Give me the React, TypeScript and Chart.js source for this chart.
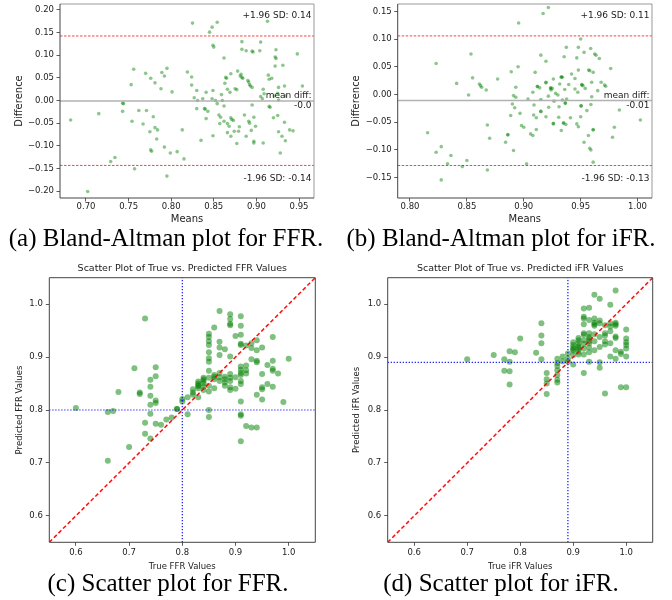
import React, { useEffect, useRef } from "react";
import { Chart, registerables } from "chart.js";

Chart.register(...registerables);

const SANS = "'DejaVu Sans', 'Liberation Sans', sans-serif";
const SERIF = "'Liberation Serif', 'Times New Roman', serif";
const INK = "#222";

// ---------- (a) Bland-Altman FFR ----------
const FFR_BA_MEANS = [
  0.682, 0.702, 0.715, 0.729, 0.734, 0.743, 0.744, 0.743, 0.753, 0.754,
  0.756, 0.757, 0.762, 0.767, 0.770, 0.771, 0.776, 0.775, 0.776, 0.777,
  0.779, 0.781, 0.781, 0.784, 0.783, 0.788, 0.789, 0.792, 0.795, 0.792,
  0.795, 0.799, 0.801, 0.807, 0.813, 0.815, 0.819, 0.824, 0.824, 0.825,
  0.827, 0.830, 0.831, 0.830, 0.835, 0.837, 0.839, 0.840, 0.841, 0.841,
  0.843, 0.845, 0.848, 0.848, 0.849, 0.850, 0.854, 0.849, 0.849, 0.852,
  0.854, 0.856, 0.857, 0.858, 0.859, 0.860, 0.862, 0.862, 0.862, 0.863,
  0.864, 0.865, 0.866, 0.866, 0.866, 0.868, 0.869, 0.870, 0.870, 0.870,
  0.871, 0.873, 0.874, 0.875, 0.877, 0.877, 0.878, 0.879, 0.880, 0.881,
  0.882, 0.883, 0.883, 0.883, 0.884, 0.886, 0.888, 0.888, 0.890, 0.891,
  0.891, 0.892, 0.892, 0.893, 0.894, 0.895, 0.895, 0.895, 0.896, 0.897,
  0.897, 0.899, 0.897, 0.904, 0.905, 0.905, 0.907, 0.908, 0.908, 0.909,
  0.913, 0.914, 0.915, 0.915, 0.916, 0.918, 0.920, 0.921, 0.922, 0.923,
  0.922, 0.923, 0.925, 0.925, 0.926, 0.926, 0.926, 0.928, 0.930, 0.931,
  0.933, 0.933, 0.934, 0.934, 0.939, 0.943, 0.948, 0.954,
];
const FFR_BA_DIFFS = [
  -0.043, -0.201, -0.029, -0.135, -0.126, -0.006, -0.007, -0.024, 0.035, -0.046,
  0.069, -0.151, -0.022, -0.052, 0.060, -0.022, 0.049, -0.069, -0.109, -0.112,
  -0.036, 0.039, -0.060, -0.065, -0.085, 0.026, 0.062, 0.054, 0.071, -0.103,
  -0.167, -0.116, 0.019, -0.113, -0.065, -0.129, 0.063, 0.052, 0.034, 0.171,
  0.006, 0.022, 0.000, -0.018, -0.088, 0.004, -0.018, -0.019, -0.040, 0.018,
  -0.024, 0.151, 0.004, 0.162, 0.122, 0.118, 0.173, 0.022, -0.078, 0.000,
  -0.007, -0.032, -0.051, -0.037, 0.013, 0.000, 0.094, -0.046, -0.012, 0.038,
  0.051, 0.049, 0.025, -0.051, -0.071, -0.057, 0.018, 0.059, -0.038, -0.079,
  -0.042, -0.044, -0.068, 0.026, 0.024, -0.095, 0.065, -0.068, -0.058, 0.054,
  0.058, 0.113, 0.130, 0.051, 0.049, -0.032, -0.079, 0.110, 0.044, 0.041,
  -0.046, -0.050, 0.035, 0.032, -0.066, 0.029, -0.010, 0.109, 0.107, -0.090,
  -0.037, -0.057, -0.094, 0.110, 0.129, 0.009, 0.004, -0.094, 0.025, 0.015,
  0.175, 0.056, 0.047, -0.013, -0.015, 0.049, -0.038, 0.010, 0.096, 0.093,
  0.076, 0.112, 0.016, -0.033, 0.029, 0.001, -0.069, -0.116, -0.079, 0.078,
  0.032, -0.048, 0.010, -0.089, -0.065, -0.067, 0.103, 0.032,
];
const FFR_BA_MEAN_DIFF = -0.001;
const FFR_BA_UPPER = 0.1426;
const FFR_BA_LOWER = -0.1434;
const FFR_BA_X_TICKS = [0.7, 0.75, 0.8, 0.85, 0.9, 0.95];
const FFR_BA_Y_TICKS = [-0.2, -0.15, -0.1, -0.05, 0, 0.05, 0.1, 0.15, 0.2];
const FFR_BA_NOTES = ["+1.96 SD: 0.14", "mean diff:", "-0.0", "-1.96 SD: -0.14"];

// ---------- (b) Bland-Altman iFR ----------
const IFR_BA_MEANS = [
  0.8155, 0.823, 0.823, 0.8275, 0.8275, 0.836, 0.833, 0.841, 0.846, 0.850,
  0.8515, 0.8536, 0.855, 0.861, 0.862, 0.863, 0.867, 0.868, 0.870, 0.868,
  0.877, 0.884, 0.886, 0.886, 0.8885, 0.889, 0.890, 0.891, 0.891, 0.892,
  0.893, 0.893, 0.895, 0.8955, 0.8967, 0.898, 0.900, 0.9025, 0.9037, 0.906,
  0.908, 0.908, 0.9087, 0.910, 0.909, 0.911, 0.911, 0.912, 0.912, 0.914,
  0.915, 0.915, 0.915, 0.915, 0.917, 0.9195, 0.9195, 0.9195, 0.9195, 0.9216,
  0.9216, 0.9219, 0.9236, 0.9236, 0.924, 0.925, 0.926, 0.926, 0.926, 0.9266,
  0.928, 0.930, 0.9307, 0.931, 0.9316, 0.933, 0.933, 0.934, 0.933, 0.934,
  0.935, 0.935, 0.9355, 0.936, 0.9365, 0.9365, 0.937, 0.9374, 0.9377, 0.9395,
  0.941, 0.942, 0.945, 0.945, 0.9466, 0.9466, 0.9475, 0.948, 0.948, 0.948,
  0.950, 0.9504, 0.9504, 0.950, 0.951, 0.951, 0.952, 0.953, 0.953, 0.954,
  0.9555, 0.9568, 0.957, 0.958, 0.9588, 0.959, 0.958, 0.959, 0.9597, 0.9597,
  0.961, 0.961, 0.961, 0.961, 0.9623, 0.9635, 0.965, 0.9664, 0.968, 0.971,
  0.9764, 0.978, 0.9796, 0.984, 1.0025, 0.972,
];
const IFR_BA_DIFFS = [
  -0.069, 0.056, -0.104, -0.094, -0.154, -0.110, -0.125, 0.020, -0.130, -0.119,
  -0.001, 0.073, 0.030, 0.019, 0.016, 0.013, 0.008, -0.055, -0.079, -0.136,
  0.028, -0.086, -0.073, -0.072, -0.038, 0.041, -0.017, -0.101, -0.002, -0.024,
  -0.005, 0.013, 0.050, 0.129, -0.034, -0.056, -0.059, -0.125, -0.008, -0.071,
  -0.074, 0.004, -0.037, 0.040, -0.019, -0.063, -0.042, 0.015, 0.014, 0.012,
  -0.009, 0.071, -0.031, -0.030, 0.146, 0.060, 0.022, 0.021, -0.040, 0.157,
  -0.003, -0.023, 0.012, 0.011, 0.008, 0.011, -0.052, -0.053, 0.028, -0.012,
  0.002, -0.001, -0.041, -0.022, 0.019, 0.032, 0.031, 0.031, -0.065, -0.010,
  -0.051, -0.052, 0.068, 0.009, -0.015, -0.016, -0.054, 0.085, -0.008, 0.018,
  -0.042, 0.037, 0.029, 0.010, 0.066, -0.053, 0.004, -0.058, 0.085, 0.044,
  0.100, -0.020, -0.021, -0.040, 0.018, 0.017, 0.016, -0.086, 0.076, 0.011,
  -0.029, -0.074, 0.044, 0.043, 0.083, -0.018, -0.097, -0.100, -0.004, 0.022,
  -0.063, -0.064, -0.122, 0.040, 0.073, 0.071, 0.007, 0.065, 0.022, 0.017,
  0.047, -0.077, -0.059, -0.028, -0.046, 0.015,
];
const IFR_BA_MEAN_DIFF = -0.011;
const IFR_BA_UPPER = 0.1057;
const IFR_BA_LOWER = -0.128;
const IFR_BA_X_TICKS = [0.8, 0.85, 0.9, 0.95, 1.0];
const IFR_BA_Y_TICKS = [-0.15, -0.1, -0.05, 0, 0.05, 0.1, 0.15];
const IFR_BA_NOTES = ["+1.96 SD: 0.11", "mean diff:", "-0.01", "-1.96 SD: -0.13"];

// ---------- (c) Scatter FFR ----------
const FFR_TRUE = [
  0.60, 0.66, 0.66, 0.67, 0.68, 0.70, 0.71, 0.72, 0.72, 0.73,
  0.73, 0.73, 0.74, 0.74, 0.74, 0.74, 0.74, 0.74, 0.75, 0.75,
  0.75, 0.75, 0.75, 0.76, 0.77, 0.78, 0.79, 0.80, 0.80, 0.81,
  0.81, 0.82, 0.82, 0.83, 0.83, 0.83, 0.83, 0.84, 0.84, 0.84,
  0.84, 0.85, 0.85, 0.85, 0.85, 0.85, 0.85, 0.85, 0.85, 0.85,
  0.85, 0.85, 0.85, 0.85, 0.86, 0.86, 0.86, 0.87, 0.87, 0.87,
  0.87, 0.87, 0.87, 0.88, 0.88, 0.88, 0.88, 0.89, 0.89, 0.89,
  0.89, 0.89, 0.89, 0.89, 0.89, 0.89, 0.90, 0.90, 0.91, 0.91,
  0.91, 0.91, 0.91, 0.91, 0.91, 0.91, 0.91, 0.91, 0.91, 0.91,
  0.91, 0.91, 0.92, 0.92, 0.92, 0.92, 0.93, 0.93, 0.93, 0.93,
  0.94, 0.94, 0.94, 0.94, 0.94, 0.94, 0.95, 0.95, 0.95, 0.95,
  0.95, 0.96, 0.96, 0.97, 0.97, 0.97, 0.97, 0.97, 0.98, 0.99,
  1.00, 0.83, 0.84, 0.86, 0.86, 0.87, 0.88, 0.89, 0.90, 0.91,
  0.92, 0.79, 0.82, 0.83, 0.84,
];
const FFR_PRED = [
  0.804, 0.704, 0.796, 0.798, 0.834, 0.730, 0.879, 0.833, 0.830, 0.973,
  0.776, 0.755, 0.857, 0.844, 0.827, 0.810, 0.793, 0.746, 0.881, 0.864,
  0.818, 0.813, 0.774, 0.772, 0.782, 0.786, 0.802, 0.816, 0.821, 0.792,
  0.824, 0.839, 0.829, 0.854, 0.847, 0.841, 0.824, 0.861, 0.855, 0.844,
  0.838, 0.944, 0.938, 0.930, 0.923, 0.909, 0.898, 0.891, 0.874, 0.861,
  0.846, 0.835, 0.800, 0.787, 0.956, 0.863, 0.841, 0.987, 0.929, 0.918,
  0.904, 0.870, 0.855, 0.915, 0.863, 0.852, 0.846, 0.981, 0.972, 0.963,
  0.960, 0.901, 0.868, 0.861, 0.843, 0.838, 0.940, 0.840, 0.977, 0.959,
  0.942, 0.925, 0.923, 0.882, 0.876, 0.866, 0.855, 0.849, 0.816, 0.792,
  0.789, 0.741, 0.922, 0.884, 0.869, 0.770, 0.926, 0.917, 0.896, 0.767,
  0.932, 0.913, 0.893, 0.890, 0.829, 0.767, 0.918, 0.868, 0.843, 0.839,
  0.820, 0.885, 0.849, 0.938, 0.893, 0.878, 0.874, 0.844, 0.869, 0.815,
  0.897, 0.850, 0.858, 0.858, 0.866, 0.862, 0.858, 0.855, 0.862, 0.870,
  0.875, 0.802, 0.833, 0.845, 0.850,
];
const FFR_THRESHOLD = 0.8;

// ---------- (d) Scatter iFR ----------
const IFR_TRUE = [
  0.70, 0.75, 0.77, 0.77, 0.78, 0.78, 0.78, 0.78, 0.79, 0.80,
  0.83, 0.84, 0.84, 0.84, 0.84, 0.85, 0.85, 0.85, 0.85, 0.87,
  0.87, 0.87, 0.87, 0.87, 0.87, 0.87, 0.88, 0.88, 0.89, 0.89,
  0.89, 0.90, 0.90, 0.90, 0.90, 0.91, 0.91, 0.91, 0.91, 0.92,
  0.92, 0.92, 0.92, 0.92, 0.92, 0.92, 0.92, 0.92, 0.93, 0.93,
  0.93, 0.93, 0.93, 0.93, 0.93, 0.93, 0.94, 0.94, 0.94, 0.94,
  0.94, 0.94, 0.94, 0.95, 0.95, 0.95, 0.95, 0.95, 0.95, 0.95,
  0.96, 0.96, 0.96, 0.96, 0.96, 0.97, 0.97, 0.97, 0.97, 0.97,
  0.98, 0.98, 0.98, 0.98, 0.98, 0.98, 0.98, 0.99, 0.99, 0.99,
  1.00, 1.00, 1.00, 1.00, 1.00, 1.00, 1.00, 0.90, 0.90, 0.91,
  0.91, 0.92, 0.93, 0.91, 0.92, 0.93, 0.96, 0.94, 0.97, 0.98,
  0.90, 0.91,
];
const IFR_PRED = [
  0.896, 0.904, 0.896, 0.874, 0.911, 0.891, 0.873, 0.848, 0.909, 0.935,
  0.908, 0.964, 0.941, 0.926, 0.896, 0.870, 0.858, 0.850, 0.830, 0.897,
  0.889, 0.883, 0.875, 0.866, 0.857, 0.852, 0.901, 0.892, 0.907, 0.897,
  0.891, 0.886, 0.904, 0.923, 0.928, 0.936, 0.926, 0.921, 0.910, 0.992,
  0.976, 0.973, 0.962, 0.942, 0.932, 0.916, 0.905, 0.870, 0.993, 0.970,
  0.945, 0.938, 0.926, 0.918, 0.909, 0.891, 1.018, 0.973, 0.962, 0.959,
  0.943, 0.930, 0.913, 1.010, 0.969, 0.964, 0.938, 0.919, 0.890, 0.880,
  0.941, 0.960, 0.831, 0.930, 0.924, 0.999, 0.964, 0.949, 0.926, 0.901,
  1.026, 0.965, 0.959, 0.939, 0.936, 0.913, 0.897, 0.910, 0.906, 0.843,
  0.952, 0.935, 0.928, 0.923, 0.916, 0.901, 0.843, 0.918, 0.915, 0.932,
  0.918, 0.925, 0.930, 0.905, 0.945, 0.935, 0.945, 0.965, 0.958, 0.962,
  0.912, 0.915,
];
const IFR_THRESHOLD = 0.89;

const SC_TICKS = [0.6, 0.7, 0.8, 0.9, 1.0];

const CAPTIONS = [
  "(a) Bland-Altman plot for FFR.",
  "(b) Bland-Altman plot for iFR.",
  "(c) Scatter plot for FFR.",
  "(d) Scatter plot for iFR.",
];

// ---------- helpers ----------
const fmt = (digits: number) => (v: number) => {
  const s = Math.abs(v).toFixed(digits);
  return (v < -1e-9 ? "\u2212" : "") + s;
};

function framePlugin(near: string, far: string) {
  return {
    id: "frame",
    afterDatasetsDraw(chart: any) {
      const { ctx, chartArea: a } = chart;
      ctx.save();
      ctx.lineWidth = 1;
      ctx.strokeStyle = far;
      ctx.beginPath();
      ctx.moveTo(a.left, a.top);
      ctx.lineTo(a.right, a.top);
      ctx.lineTo(a.right, a.bottom);
      ctx.stroke();
      ctx.strokeStyle = near;
      ctx.beginPath();
      ctx.moveTo(a.left, a.top);
      ctx.lineTo(a.left, a.bottom);
      ctx.lineTo(a.right, a.bottom);
      ctx.stroke();
      ctx.restore();
    },
  };
}

function notesPlugin(items: { text: string; value: number; dy: number }[]) {
  return {
    id: "notes",
    afterDatasetsDraw(chart: any) {
      const { ctx, chartArea: a, scales } = chart;
      ctx.save();
      ctx.font = `9px ${SANS}`;
      ctx.fillStyle = INK;
      ctx.textAlign = "right";
      ctx.textBaseline = "middle";
      for (const it of items) {
        ctx.fillText(it.text, a.right - 2.5, scales.y.getPixelForValue(it.value) + it.dy);
      }
      ctx.restore();
    },
  };
}

function linScale(o: {
  min: number; max: number; ticks: number[]; digits: number; title: string;
  titleSize: number; titlePad: any; size: number; horizontal: boolean; tickPad: number;
}) {
  const f = fmt(o.digits);
  return {
    type: "linear",
    min: o.min,
    max: o.max,
    afterBuildTicks: (s: any) => {
      s.ticks = o.ticks.map((value) => ({ value }));
    },
    afterFit: (s: any) => {
      if (o.horizontal) s.height = o.size;
      else s.width = o.size;
      s.paddingTop = 0;
      s.paddingBottom = 0;
      s.paddingLeft = 0;
      s.paddingRight = 0;
    },
    grid: { display: true, drawOnChartArea: false, drawTicks: true, tickLength: 3.5, tickWidth: 0.8, tickColor: "#333" },
    border: { display: false },
    ticks: {
      autoSkip: false, maxRotation: 0, minRotation: 0, padding: o.tickPad, color: INK,
      font: { family: SANS, size: 8.5 },
      callback: (v: any) => f(Number(v)),
    },
    title: { display: true, text: o.title, color: INK, font: { family: SANS, size: o.titleSize }, padding: o.titlePad },
  };
}

function hline(x0: number, x1: number, y: number, color: string, width: number, dash: number[]) {
  return {
    type: "line", order: 0,
    data: [{ x: x0, y }, { x: x1, y }],
    borderColor: color, borderWidth: width, borderDash: dash,
    pointRadius: 0, pointHoverRadius: 0, fill: false, tension: 0,
  };
}
function seg(p0: { x: number; y: number }, p1: { x: number; y: number }, color: string, width: number, dash: number[]) {
  return {
    type: "line", order: 0,
    data: [p0, p1],
    borderColor: color, borderWidth: width, borderDash: dash,
    pointRadius: 0, pointHoverRadius: 0, fill: false, tension: 0,
  };
}

function baConfig(p: {
  means: number[]; diffs: number[]; meanDiff: number; upper: number; lower: number;
  xMin: number; xMax: number; yMin: number; yMax: number; xTicks: number[]; yTicks: number[];
  yWidth: number; padRight: number; yTitlePad: number; notes: string[];
}) {
  const pts = p.means.map((m, i) => ({ x: m, y: p.diffs[i] }));
  return {
    type: "scatter",
    data: {
      datasets: [
        hline(p.xMin, p.xMax, p.meanDiff, "rgba(170,170,170,0.9)", 1.5, []),
        hline(p.xMin, p.xMax, p.upper, "rgba(255,0,0,0.75)", 1, [2.5, 1.5]),
        hline(p.xMin, p.xMax, p.lower, "rgba(255,0,0,0.75)", 1, [2.5, 1.5]),
        { order: 1, data: pts, backgroundColor: "rgba(0,128,0,0.45)", borderWidth: 0, pointRadius: 1.8, pointHoverRadius: 1.8 },
      ],
    },
    options: {
      responsive: false, maintainAspectRatio: false, animation: false, devicePixelRatio: 1, events: [],
      layout: { padding: { left: 0, top: 4, right: p.padRight, bottom: 0 } },
      plugins: { legend: { display: false }, tooltip: { enabled: false }, title: { display: false } },
      scales: {
        x: linScale({ min: p.xMin, max: p.xMax, ticks: p.xTicks, digits: 2, title: "Means", titleSize: 10,
          titlePad: { top: 0, bottom: 3 }, size: 30, horizontal: true, tickPad: 0 }),
        y: linScale({ min: p.yMin, max: p.yMax, ticks: p.yTicks, digits: 2, title: "Difference", titleSize: 10,
          titlePad: { top: p.yTitlePad, bottom: 0 }, size: p.yWidth, horizontal: false, tickPad: 2.5 }),
      },
    },
    plugins: [
      framePlugin("#444", "#999"),
      notesPlugin([
        { text: p.notes[0], value: p.upper, dy: -20 },
        { text: p.notes[1], value: p.meanDiff, dy: -5 },
        { text: p.notes[2], value: p.meanDiff, dy: 5 },
        { text: p.notes[3], value: p.lower, dy: 13.6 },
      ]),
    ],
  };
}

function scConfig(p: {
  xs: number[]; ys: number[]; thr: number; title: string; xTitle: string; yTitle: string;
  yWidth: number; padRight: number; yTitlePad: number;
}) {
  const pts = p.xs.map((x, i) => ({ x, y: p.ys[i] }));
  const lo = 0.55, hi = 1.05;
  return {
    type: "scatter",
    data: {
      datasets: [
        seg({ x: lo, y: lo }, { x: hi, y: hi }, "rgba(255,0,0,0.95)", 1.5, [4, 2.5]),
        seg({ x: p.thr, y: lo }, { x: p.thr, y: hi }, "rgba(0,0,255,0.95)", 1.2, [1.2, 1.8]),
        seg({ x: lo, y: p.thr }, { x: hi, y: p.thr }, "rgba(0,0,255,0.95)", 1.2, [1.2, 1.8]),
        { order: 1, data: pts, backgroundColor: "rgba(0,128,0,0.5)", borderWidth: 0, pointRadius: 3, pointHoverRadius: 3 },
      ],
    },
    options: {
      responsive: false, maintainAspectRatio: false, animation: false, devicePixelRatio: 1, events: [],
      layout: { padding: { left: 0, top: 0, right: p.padRight, bottom: 0 } },
      plugins: {
        legend: { display: false }, tooltip: { enabled: false },
        title: {
          display: true, text: p.title, fullSize: false, color: INK,
          font: { family: SANS, size: 9.5, weight: "normal" }, padding: { top: 12.6, bottom: 3.7 },
        },
      },
      scales: {
        x: linScale({ min: lo, max: hi, ticks: SC_TICKS, digits: 1, title: p.xTitle, titleSize: 8.5,
          titlePad: { top: 0, bottom: 8.2 }, size: 37.7, horizontal: true, tickPad: 2.2 }),
        y: linScale({ min: lo, max: hi, ticks: SC_TICKS, digits: 1, title: p.yTitle, titleSize: 8.5,
          titlePad: { top: p.yTitlePad, bottom: 0 }, size: p.yWidth, horizontal: false, tickPad: 3 }),
      },
    },
    plugins: [framePlugin("#444", "#444")],
  };
}

function ChartBox({ left, top, width, height, build }: { left: number; top: number; width: number; height: number; build: () => any }) {
  const ref = useRef<HTMLCanvasElement>(null);
  useEffect(() => {
    const chart = new Chart(ref.current as HTMLCanvasElement, build());
    return () => chart.destroy();
  }, []);
  return (
    <div style={{ position: "absolute", left, top, width, height }}>
      <canvas ref={ref} width={width} height={height} style={{ width, height, display: "block" }} />
    </div>
  );
}

function Caption({ text, center, top }: { text: string; center: number; top: number }) {
  return (
    <div
      style={{
        position: "absolute", left: center - 200, top, width: 400, textAlign: "center",
        fontFamily: SERIF, fontSize: 25, lineHeight: "25px", color: "#000", whiteSpace: "nowrap",
      }}
    >
      {text}
    </div>
  );
}

export default function App() {
  return (
    <div style={{ position: "fixed", left: 0, top: 0, width: 672, height: 600, background: "#fff", overflow: "hidden" }}>
      <ChartBox left={0} top={0} width={336} height={228} build={() => baConfig({
        means: FFR_BA_MEANS, diffs: FFR_BA_DIFFS, meanDiff: FFR_BA_MEAN_DIFF, upper: FFR_BA_UPPER, lower: FFR_BA_LOWER,
        xMin: 0.6695, xMax: 0.9676, yMin: -0.2154, yMax: 0.2132, xTicks: FFR_BA_X_TICKS, yTicks: FFR_BA_Y_TICKS,
        yWidth: 60, padRight: 22, yTitlePad: 13, notes: FFR_BA_NOTES,
      })} />
      <ChartBox left={336} top={0} width={336} height={228} build={() => baConfig({
        means: IFR_BA_MEANS, diffs: IFR_BA_DIFFS, meanDiff: IFR_BA_MEAN_DIFF, upper: IFR_BA_UPPER, lower: IFR_BA_LOWER,
        xMin: 0.7892, xMax: 1.0127, yMin: -0.1866, yMax: 0.1632, xTicks: IFR_BA_X_TICKS, yTicks: IFR_BA_Y_TICKS,
        yWidth: 61.7, padRight: 20, yTitlePad: 14.7, notes: IFR_BA_NOTES,
      })} />
      <ChartBox left={0} top={250} width={336} height={330} build={() => scConfig({
        xs: FFR_TRUE, ys: FFR_PRED, thr: FFR_THRESHOLD,
        title: "Scatter Plot of True vs. Predicted FFR Values", xTitle: "True FFR Values", yTitle: "Predicted FFR Values",
        yWidth: 49.3, padRight: 20.7, yTitlePad: 15,
      })} />
      <ChartBox left={336} top={250} width={336} height={330} build={() => scConfig({
        xs: IFR_TRUE, ys: IFR_PRED, thr: IFR_THRESHOLD,
        title: "Scatter Plot of True vs. Predicted iFR Values", xTitle: "True iFR Values", yTitle: "Predicted iFR Values",
        yWidth: 51.7, padRight: 19.3, yTitlePad: 15.6,
      })} />
      <Caption text={CAPTIONS[0]} center={166} top={225} />
      <Caption text={CAPTIONS[1]} center={501} top={225} />
      <Caption text={CAPTIONS[2]} center={168} top={570} />
      <Caption text={CAPTIONS[3]} center={501} top={570} />
    </div>
  );
}
